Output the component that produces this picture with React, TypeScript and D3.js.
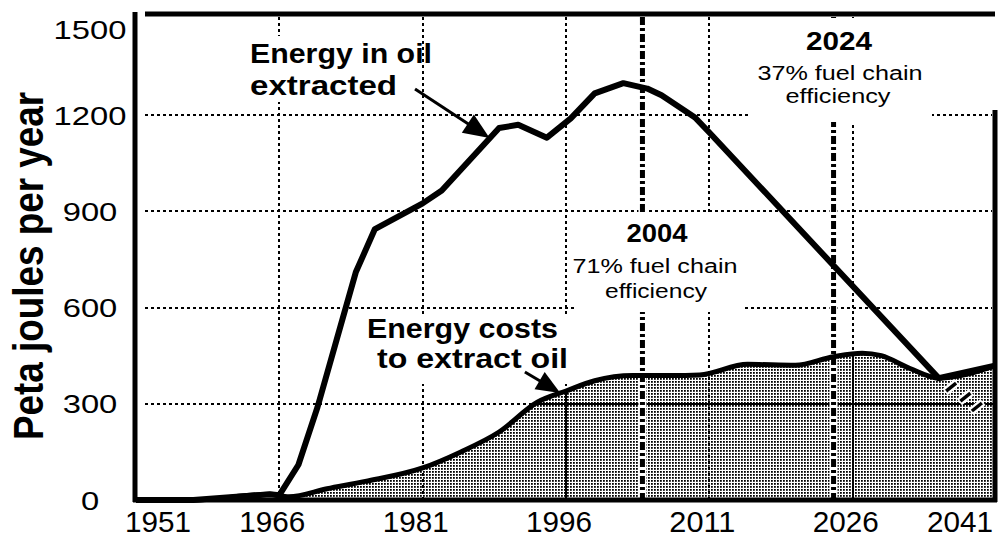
import React from 'react';
import * as d3 from 'd3';

const W = 998;
const H = 539;

// energy in oil extracted, peta joules per year
const extractedYears = [1951, 1957, 1965, 1966, 1968, 1970, 1972, 1974, 1976, 1981, 1983, 1989, 1991, 1994, 1996.5, 1999, 2002, 2004.5, 2006, 2009.5, 2011, 2035, 2041];
const extractedValues = [0, 0, 18, 15, 110, 290, 500, 710, 845, 925, 965, 1160, 1170, 1130, 1190, 1268, 1300, 1283, 1262, 1193, 1146, 380, 420];

// energy costs to extract oil
const costYears = [1951, 1957, 1965, 1967, 1971, 1975, 1981, 1985, 1989, 1993, 1996, 1999, 2003, 2007, 2010, 2015, 2020, 2024, 2027, 2029, 2032, 2035, 2041];
const costValues = [0, 0, 18, 10, 35, 58, 100, 150, 212, 305, 340, 372, 388, 388, 390, 423, 420, 447, 458, 450, 410, 380, 420];

const xTicks = [1951, 1966, 1981, 1996, 2011, 2026, 2041];
const yTicks = [0, 300, 600, 900, 1200, 1500];
const gridYears = [1966, 1981, 1996, 2011, 2026];
const gridValues = [300, 600, 900, 1200];
const solidGridYears = [1996, 2026];
const solidGridValues = [300];
const markerYears = [2004, 2024];

// little slash marks near the end of the curves
const hatchYears = [2036.3, 2037.8, 2039.0];
const hatchValues = [352, 321, 290];

const FONT = '"Liberation Sans", Arial, Helvetica, sans-serif';

type Pt = [number, number];

function Arrow({ x1, y1, x2, y2, len, half }: { x1: number; y1: number; x2: number; y2: number; len: number; half: number }) {
  const a = Math.atan2(y2 - y1, x2 - x1);
  const bx = x2 - len * Math.cos(a);
  const by = y2 - len * Math.sin(a);
  const px = -Math.sin(a) * half;
  const py = Math.cos(a) * half;
  return (
    <g>
      <line x1={x1} y1={y1} x2={bx + 2 * Math.cos(a)} y2={by + 2 * Math.sin(a)} stroke="#000" strokeWidth={3} />
      <polygon points={`${x2},${y2} ${bx + px},${by + py} ${bx - px},${by - py}`} fill="#000" />
    </g>
  );
}

export default function App() {
  const x = d3.scaleLinear().domain([1951, 2041]).range([136, 996]);
  const y = d3.scaleLinear().domain([0, 1500]).range([500, 19]);

  const extracted: Pt[] = extractedYears.map((yr, i) => [yr, extractedValues[i]]);
  const cost: Pt[] = costYears.map((yr, i) => [yr, costValues[i]]);

  const line = d3.line<Pt>().x(d => x(d[0])).y(d => y(d[1]));
  const costLine = d3.line<Pt>().x(d => x(d[0])).y(d => y(d[1])).curve(d3.curveMonotoneX);
  const costArea = d3.area<Pt>().x(d => x(d[0])).y0(y(0)).y1(d => y(d[1])).curve(d3.curveMonotoneX);

  const top = y(1500) - 5;
  const left = x(1951) - 1;
  const right = x(2041) - 1;
  const bottom = y(0);

  return (
    <svg width={W} height={H} style={{ position: 'absolute', left: 0, top: 0, background: '#fff' }} fontFamily={FONT}>
      <defs>
        <pattern id="dots" width={3} height={3} patternUnits="userSpaceOnUse">
          <rect width={3} height={3} fill="#fff" />
          <rect width={1.8} height={1.8} fill="#000" />
        </pattern>
        <clipPath id="costClip">
          <path d={costArea(cost) || ''} />
        </clipPath>
      </defs>
      <rect width={W} height={H} fill="#fff" />

      {/* dotted fill under the cost curve */}
      <path d={costArea(cost) || ''} fill="url(#dots)" />
      <g clipPath="url(#costClip)" stroke="#000" strokeWidth={2}>
        {solidGridYears.map(yr => (
          <line key={yr} x1={Math.round(x(yr))} x2={Math.round(x(yr))} y1={top} y2={bottom} />
        ))}
        {solidGridValues.map(v => (
          <line key={v} x1={left} x2={right} y1={Math.round(y(v))} y2={Math.round(y(v))} />
        ))}
      </g>

      {/* dotted grid */}
      <g stroke="#000" strokeWidth={2.5} strokeDasharray="3 3" shapeRendering="crispEdges">
        {gridYears.map(yr => (
          <line key={yr} x1={Math.round(x(yr))} x2={Math.round(x(yr))} y1={top + 3} y2={bottom - 2} />
        ))}
        {gridValues.map(v => (
          <line key={v} x1={left + 10} x2={right - 3} y1={Math.round(y(v))} y2={Math.round(y(v))} />
        ))}
      </g>

      {/* dash-dot year markers */}
      {markerYears.map(yr => (
        <g key={yr}>
          <line x1={x(yr)} x2={x(yr)} y1={top + 3} y2={bottom - 2} stroke="#fff" strokeWidth={8} />
          <line x1={x(yr)} x2={x(yr)} y1={top + 3} y2={bottom - 2} stroke="#000" strokeWidth={5} strokeDasharray="8 3 3 3" />
        </g>
      ))}

      {/* white space kept behind the annotations */}
      <rect x={244} y={36} width={174} height={66} fill="#fff" />
      <rect x={362} y={314} width={214} height={70} fill="#fff" />
      <rect x={574} y={214} width={168} height={98} fill="#fff" />
      <rect x={748} y={18} width={184} height={104} fill="#fff" />

      {/* curves */}
      <path d={costLine(cost) || ''} fill="none" stroke="#000" strokeWidth={5} strokeLinejoin="round" />
      <path d={line(extracted) || ''} fill="none" stroke="#000" strokeWidth={6} strokeLinejoin="round" />

      {hatchYears.map((yr, i) => {
        const cx = x(yr);
        const cy = y(hatchValues[i]);
        return (
          <g key={yr}>
            <line x1={cx - 6} y1={cy + 5} x2={cx + 6} y2={cy - 5} stroke="#fff" strokeWidth={8} />
            <line x1={cx - 5} y1={cy + 4} x2={cx + 5} y2={cy - 4} stroke="#000" strokeWidth={3.5} />
          </g>
        );
      })}

      {/* frame */}
      <g stroke="#000" strokeWidth={5}>
        <line x1={left} x2={left} y1={top - 2} y2={bottom + 2} />
        <line x1={left - 2} x2={right + 2} y1={bottom} y2={bottom} />
        <line x1={left + 10} x2={right} y1={top} y2={top} />
        <line x1={right} x2={right} y1={110} y2={bottom + 2} />
      </g>

      {/* arrows */}
      <Arrow x1={x(1980.2)} y1={y(1282)} x2={x(1988)} y2={y(1129)} len={26} half={11} />
      <Arrow x1={x(1991.7)} y1={y(399)} x2={x(1995.4)} y2={y(334)} len={24} half={10} />

      {/* y axis */}
      {yTicks.map(v => (
        <text key={v} x={90} y={Math.max(y(v) + 9.5, 39)} fontSize={26.5} textAnchor="middle"
          textLength={String(v).length * 18.2} lengthAdjust="spacingAndGlyphs">{v}</text>
      ))}
      <text transform={`translate(43,266) scale(1.18,1) rotate(-90)`} fontSize={36} fontWeight="bold"
        textAnchor="middle" textLength={348} lengthAdjust="spacingAndGlyphs">Peta joules per year</text>

      {/* x axis */}
      {xTicks.map((yr, i) => {
        const first = i === 0;
        const last = i === xTicks.length - 1;
        const tx = first ? x(yr) - 11 : last ? x(yr) - 3 : x(yr) - 7;
        return (
          <text key={yr} x={tx} y={532} fontSize={29} textAnchor={first ? 'start' : last ? 'end' : 'middle'}
            textLength={66} lengthAdjust="spacingAndGlyphs">{yr}</text>
        );
      })}

      {/* annotations */}
      <g fontWeight="bold" fontSize={28}>
        <text x={250} y={63} textLength={182} lengthAdjust="spacingAndGlyphs">Energy in oil</text>
        <text x={250} y={95} textLength={147} lengthAdjust="spacingAndGlyphs">extracted</text>
        <text x={367} y={338} fontSize={27} textLength={191} lengthAdjust="spacingAndGlyphs">Energy costs</text>
        <text x={377} y={368} fontSize={27} textLength={191} lengthAdjust="spacingAndGlyphs">to extract oil</text>
        <text x={657} y={242} fontSize={26} textAnchor="middle" textLength={61} lengthAdjust="spacingAndGlyphs">2004</text>
        <text x={839} y={50} fontSize={26} textAnchor="middle" textLength={66} lengthAdjust="spacingAndGlyphs">2024</text>
      </g>
      <g fontSize={20}>
        <text x={655} y={273} textAnchor="middle" textLength={165} lengthAdjust="spacingAndGlyphs">71% fuel chain</text>
        <text x={656} y={298} textAnchor="middle" textLength={102} lengthAdjust="spacingAndGlyphs">efficiency</text>
        <text x={840} y={80} textAnchor="middle" textLength={165} lengthAdjust="spacingAndGlyphs">37% fuel chain</text>
        <text x={838} y={103} textAnchor="middle" textLength={105} lengthAdjust="spacingAndGlyphs">efficiency</text>
      </g>
    </svg>
  );
}
